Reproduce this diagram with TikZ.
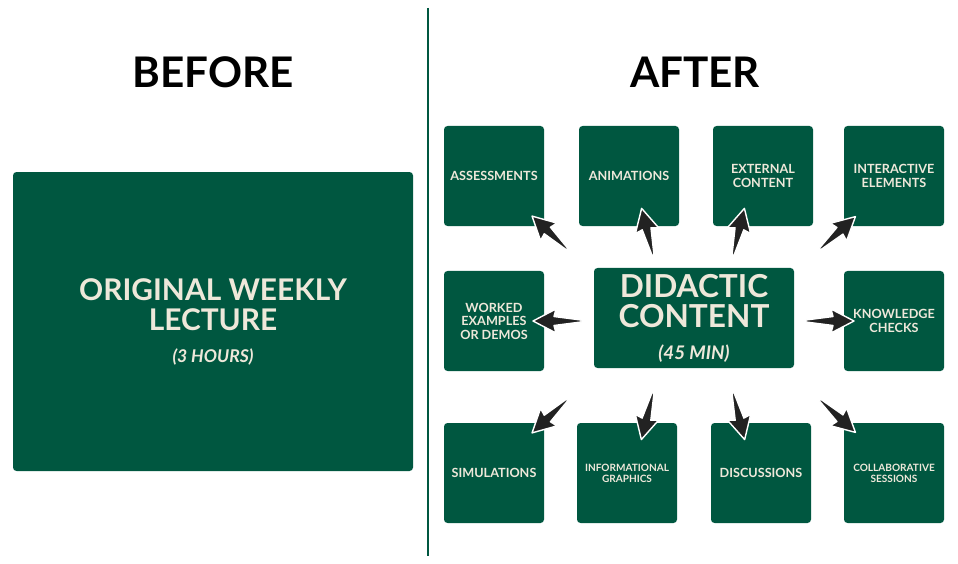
\documentclass[tikz,border=0pt]{standalone}
\usepackage{fontspec}
\setmainfont{Lato}
\definecolor{boxgreen}{HTML}{005740}
\definecolor{cream}{HTML}{EEE8DA}
\definecolor{arrowgray}{HTML}{222222}
\tikzset{
  box/.style={fill=boxgreen, rounded corners=3pt, text=cream, align=center,
    minimum width=3cm, minimum height=3cm, font=\fontsize{10.8}{11.5}\selectfont\bfseries},
  smallbox/.style={box, font=\fontsize{8.6}{9.5}\selectfont\bfseries},
  title/.style={font=\fontsize{36}{40}\selectfont\bfseries, text=black},
  arrowshape/.style={fill=arrowgray, draw=white, line width=1.2pt, line join=round}
}
% tapered arrow from #1 to #2
\newcommand\flowarrow[2]{%
  \pgfmathanglebetweenpoints{\pgfpointanchor{#1}{center}}{\pgfpointanchor{#2}{center}}%
  \let\faang\pgfmathresult
  \begin{scope}[shift={(#1)}, rotate=\faang, x=0.03cm, y=0.03cm]
    \draw[arrowshape] (0,-1) -- (27,-4.5) -- (25,-12) -- (48,0) -- (25,12) -- (27,4.5) -- (0,1) -- cycle;
  \end{scope}}
\begin{document}
\begin{tikzpicture}[x=0.03cm, y=-0.03cm]
\useasboundingbox (0,0) rectangle (958,564);
% before
\node[title] (before) at (213,72) {BEFORE};
\fill[boxgreen, rounded corners=3pt] (13,172) rectangle (413,471);
\node[text=cream, align=center, font=\fontsize{25.5}{26}\selectfont\bfseries] (lecture) at (213,322)
  {ORIGINAL WEEKLY\\LECTURE\\[1pt]{\fontsize{15}{16}\selectfont\itshape (3 HOURS)}};
\draw[boxgreen, line width=1.2pt] (428,8) -- (428,556);
% after
\node[title] (after) at (695,72) {AFTER};
\node[box, minimum width=6cm, font=\fontsize{27}{26}\selectfont\bfseries] (didactic) at (694,318)
  {DIDACTIC\\CONTENT\\[1pt]{\fontsize{16}{17}\selectfont\itshape (45 MIN)}};
\node[box] (assess) at (494,176) {ASSESSMENTS};
\node[box] (anim) at (629,176) {ANIMATIONS};
\node[box] (external) at (763,176) {EXTERNAL\\CONTENT};
\node[box] (interact) at (894,176) {INTERACTIVE\\ELEMENTS};
\node[box] (worked) at (494,321) {WORKED\\EXAMPLES\\OR DEMOS};
\node[box] (knowledge) at (894,321) {KNOWLEDGE\\CHECKS};
\node[box] (simul) at (494,473) {SIMULATIONS};
\node[smallbox] (infograph) at (627,473) {INFORMATIONAL\\GRAPHICS};
\node[box] (discuss) at (761,473) {DISCUSSIONS};
\node[smallbox] (collab) at (894,473) {COLLABORATIVE\\SESSIONS};
% arrow ends
\coordinate (a1-s) at (567,249); \coordinate (a1-e) at (533,217);
\coordinate (a2-s) at (653,255); \coordinate (a2-e) at (642,210);
\coordinate (a3-s) at (733,255); \coordinate (a3-e) at (744,210);
\coordinate (a4-s) at (820,249); \coordinate (a4-e) at (855,217);
\coordinate (a5-s) at (581,321); \coordinate (a5-e) at (533,321);
\coordinate (a6-s) at (806,321); \coordinate (a6-e) at (852,321);
\coordinate (a7-s) at (567,400); \coordinate (a7-e) at (533,432);
\coordinate (a8-s) at (653,393); \coordinate (a8-e) at (642,437);
\coordinate (a9-s) at (733,393); \coordinate (a9-e) at (744,437);
\coordinate (a10-s) at (820,400); \coordinate (a10-e) at (855,432);
\foreach \name in {a1,a2,a3,a4,a5,a6,a7,a8,a9,a10} {
  \flowarrow{\name-s}{\name-e}
}
\end{tikzpicture}
\end{document}
